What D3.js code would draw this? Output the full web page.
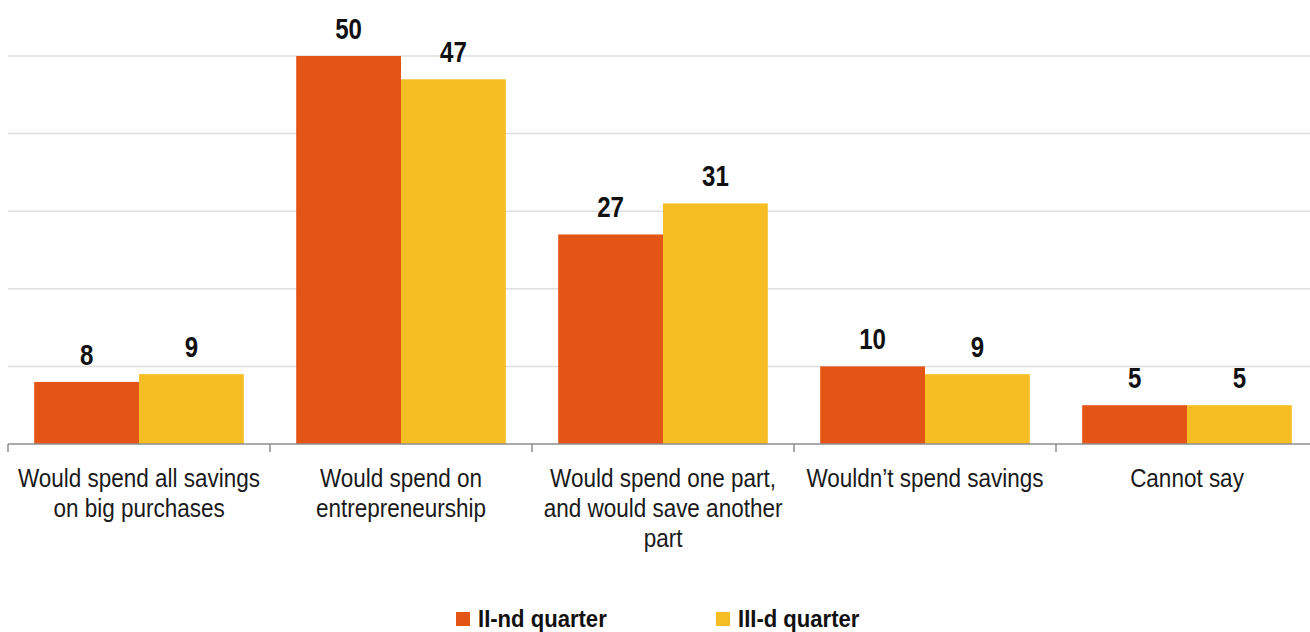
<!DOCTYPE html>
<html>
<head>
<meta charset="utf-8">
<script src="https://cdn.jsdelivr.net/npm/d3@7"></script>
<style>
  html, body { margin: 0; padding: 0; background: #ffffff; }
  svg { display: block; }
  .lbl { font-family: "Liberation Sans", Arial, sans-serif; }
</style>
</head>
<body>
<svg id="chart" width="1310" height="632"></svg>
<script>
// Answers to "How would you use your savings?" by quarter, %
const categories = [
  ["Would spend all savings", "on big purchases"],
  ["Would spend on", "entrepreneurship"],
  ["Would spend one part,", "and would save another", "part"],
  ["Wouldn\u2019t spend savings"],
  ["Cannot say"]
];
const seriesNames = ["II-nd quarter", "III-d quarter"];
const quarter2 = [8, 50, 27, 10, 5];
const quarter3 = [9, 47, 31, 9, 5];
const yTicks = [0, 10, 20, 30, 40, 50];
const colors = ["#e35415", "#f6be22"];

const svg = d3.select("#chart");
const left = 8, right = 1318, baseY = 444, topY = 56;

const keys = categories.map((c, i) => i);
const x0 = d3.scaleBand().domain(keys).range([left, right])
  .paddingInner(0.2).paddingOuter(0.1);
const x1 = d3.scaleBand().domain([0, 1]).range([0, x0.bandwidth()]);
const y = d3.scaleLinear().domain([0, 50]).range([baseY, topY]);

// horizontal gridlines
svg.append("g")
  .selectAll("line")
  .data(yTicks.filter(t => t > 0))
  .join("line")
  .attr("x1", left).attr("x2", right)
  .attr("y1", d => y(d)).attr("y2", d => y(d))
  .attr("stroke", "#dedede").attr("stroke-width", 1.5);

// bars
const series = [quarter2, quarter3];
const groups = svg.append("g")
  .selectAll("g")
  .data(keys)
  .join("g")
  .attr("transform", d => `translate(${x0(d)},0)`);

groups.selectAll("rect")
  .data(d => series.map((s, j) => ({ j, v: s[d] })))
  .join("rect")
  .attr("x", d => x1(d.j))
  .attr("width", x1.bandwidth())
  .attr("y", d => y(d.v))
  .attr("height", d => y(0) - y(d.v))
  .attr("fill", d => colors[d.j]);

// value labels (condensed horizontally)
groups.selectAll("text.val")
  .data(d => series.map((s, j) => ({ j, v: s[d] })))
  .join("text")
  .attr("class", "val lbl")
  .attr("transform", d => `translate(${x1(d.j) + x1.bandwidth() / 2},${y(d.v) - 17}) scale(0.83,1)`)
  .attr("text-anchor", "middle")
  .attr("font-size", 29)
  .attr("font-weight", "bold")
  .attr("fill", "#111")
  .text(d => d.v);

// category axis with boundary ticks
const step = x0.step();
const axis = svg.append("g");
axis.append("line")
  .attr("x1", left).attr("x2", right)
  .attr("y1", baseY).attr("y2", baseY)
  .attr("stroke", "#8c8c8c").attr("stroke-width", 1.5);
axis.selectAll("line.tick")
  .data(d3.range(categories.length + 1))
  .join("line")
  .attr("class", "tick")
  .attr("x1", i => left + i * step).attr("x2", i => left + i * step)
  .attr("y1", baseY).attr("y2", baseY + 8)
  .attr("stroke", "#8c8c8c").attr("stroke-width", 1.5);

// category labels
svg.append("g")
  .selectAll("text")
  .data(keys)
  .join("text")
  .attr("class", "lbl")
  .attr("text-anchor", "middle")
  .attr("font-size", 25)
  .attr("fill", "#1a1a1a")
  .attr("transform", d => `translate(${x0(d) + x0.bandwidth() / 2},0) scale(0.9,1)`)
  .each(function (d) {
    d3.select(this).selectAll("tspan")
      .data(categories[d])
      .join("tspan")
      .attr("x", 0)
      .attr("y", (t, k) => 487 + k * 30)
      .text(t => t);
  });

// legend
const legendX = [456, 716];
const legend = svg.append("g")
  .selectAll("g")
  .data(seriesNames)
  .join("g")
  .attr("transform", (d, i) => `translate(${legendX[i]},0)`);
legend.append("rect")
  .attr("x", 0).attr("y", 612)
  .attr("width", 14).attr("height", 14)
  .attr("fill", (d, i) => colors[i]);
legend.append("text")
  .attr("class", "lbl")
  .attr("transform", "translate(22,627) scale(0.96,1)")
  .attr("font-size", 23)
  .attr("font-weight", "bold")
  .attr("fill", "#111")
  .text(d => d);
</script>
</body>
</html>
